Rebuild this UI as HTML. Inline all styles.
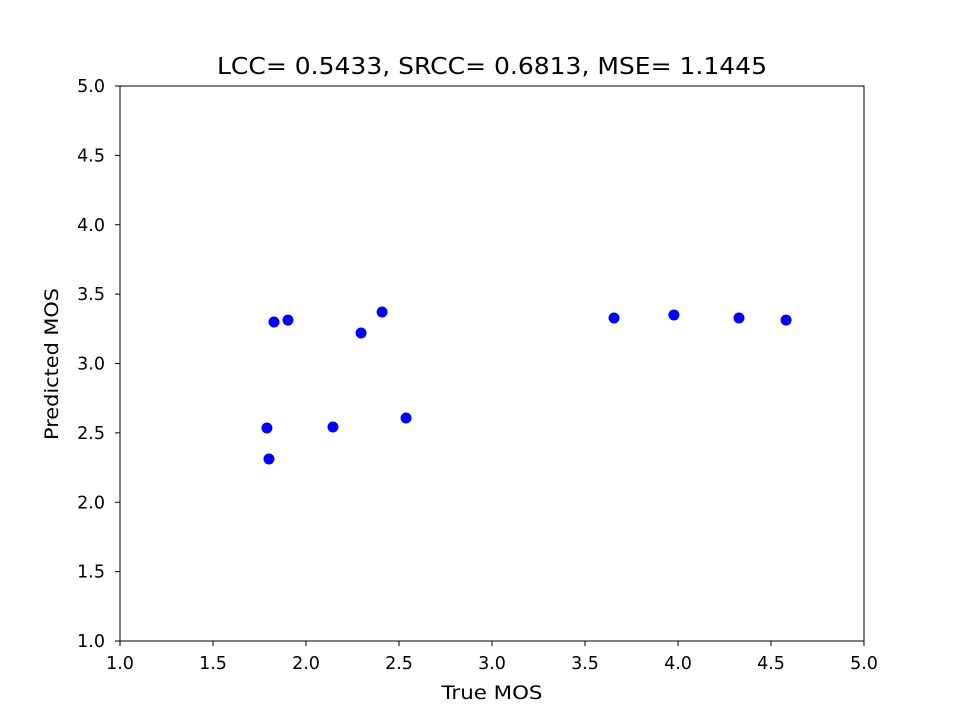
<!DOCTYPE html>
<html><head><meta charset="utf-8"><style>
body{margin:0;background:#fff;}
svg text{font-family:"DejaVu Sans","Liberation Sans",sans-serif;fill:#000;}
</style></head><body>
<svg id="chart" width="960" height="720" xmlns="http://www.w3.org/2000/svg">
<rect width="960" height="720" fill="#fff"/>
<text x="492" y="74" text-anchor="middle" font-size="23" textLength="550" lengthAdjust="spacingAndGlyphs">LCC= 0.5433, SRCC= 0.6813, MSE= 1.1445</text>
<g id="axes"></g>
<g id="points"></g>
<rect x="120" y="86" width="744" height="555" fill="none" stroke="#000" stroke-width="1"/>
<text x="492" y="699" text-anchor="middle" font-size="19" textLength="101" lengthAdjust="spacingAndGlyphs">True MOS</text>
<text transform="translate(58,364) rotate(-90)" text-anchor="middle" font-size="19" textLength="152" lengthAdjust="spacingAndGlyphs">Predicted MOS</text>
</svg>
<script>
const xTicks=[1.0,1.5,2.0,2.5,3.0,3.5,4.0,4.5,5.0];
const yTicks=[1.0,1.5,2.0,2.5,3.0,3.5,4.0,4.5,5.0];
const trueMOS=[1.828,1.903,1.790,1.801,2.145,2.296,2.409,2.538,3.656,3.978,4.328,4.581];
const predMOS=[3.299,3.313,2.535,2.312,2.542,3.220,3.371,2.607,3.328,3.350,3.328,3.313];
const NS="http://www.w3.org/2000/svg";
const X0=120,X1=864,Y0=641,Y1=86;
function sx(v){return X0+(v-1)/(5-1)*(X1-X0);}
function sy(v){return Y0-(v-1)/(5-1)*(Y0-Y1);}
const axes=document.getElementById('axes');
function mk(tag,attrs,parent){const e=document.createElementNS(NS,tag);for(const k in attrs)e.setAttribute(k,attrs[k]);parent.appendChild(e);return e;}
xTicks.forEach(t=>{
 const x=sx(t);
 const l=mk('line',{x1:x,x2:x,y1:Y0,y2:Y0+5,stroke:'#000'},axes);
 
 
 const tx=mk('text',{x:x,y:Y0+28,'text-anchor':'middle','font-size':'17.5'},axes);
 tx.textContent=t.toFixed(1);
 
 
});
yTicks.forEach(t=>{
 const y=sy(t);
 const l=mk('line',{x1:X0-5,x2:X0,y1:y,y2:y,stroke:'#000'},axes);
 
 
 const tx=mk('text',{x:X0-15,y:y+6,'text-anchor':'end','font-size':'17.5'},axes);
 tx.textContent=t.toFixed(1);
 
 
});
const pts=document.getElementById('points');
trueMOS.forEach((v,i)=>{
 const c=mk('circle',{cx:sx(v),cy:sy(predMOS[i]),r:5.5,fill:'#0000ff'},pts);
 
 
});
</script>
</body></html>
